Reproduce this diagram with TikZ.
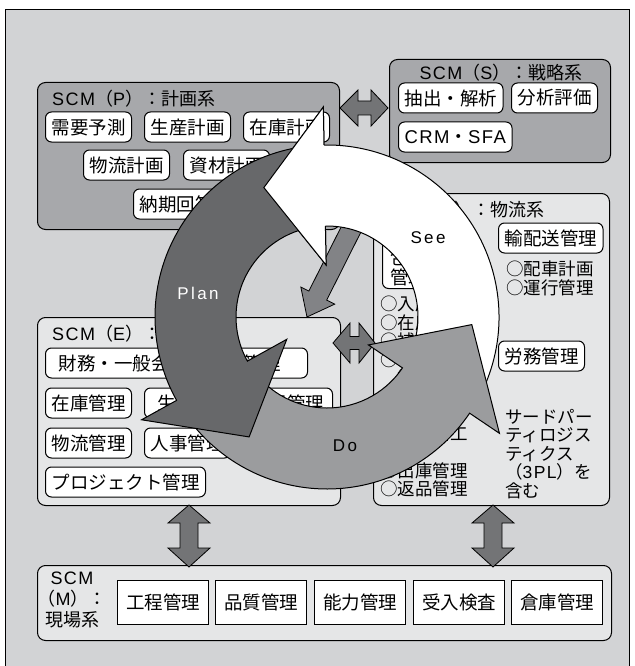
\documentclass[tikz,border=0pt]{standalone}
\usepackage{fontspec}
\setmainfont{Noto Sans CJK JP}
\newfontfamily\lt{Liberation Sans}[LetterSpace=8]
\newfontfamily\ltw{Liberation Sans}[LetterSpace=14]
\usetikzlibrary{calc}
\definecolor{bgc}{HTML}{D2D3D5}
\definecolor{pdk}{HTML}{A7A8AB}
\definecolor{plt}{HTML}{E5E6E7}
\definecolor{plancol}{HTML}{67686A}
\definecolor{docol}{HTML}{9B9C9E}
\definecolor{dblcol}{HTML}{737476}
\definecolor{diagcol}{HTML}{828386}
\begin{document}
\begin{tikzpicture}[x=1pt,y=-1pt,
  panel/.style={draw=black, line width=1pt, rounded corners=8pt, anchor=north west, inner sep=0pt},
  pdark/.style={panel, fill=pdk},
  plight/.style={panel, fill=plt},
  tbox/.style={draw=black, fill=white, line width=1pt, rounded corners=6pt, inner xsep=6pt, inner ysep=0pt,
     minimum height=30pt, font=\fontsize{18.5}{20}\selectfont, anchor=west},
  sqbox/.style={draw=black, fill=white, line width=1pt, minimum width=91pt, minimum height=44pt,
     inner sep=0pt, font=\fontsize{18.5}{20}\selectfont, anchor=north west},
  ttl/.style={anchor=west, font=\fontsize{18}{20}\selectfont, inner sep=0pt},
  lst/.style={anchor=north west, align=left, font=\fontsize{17.5}{18.5}\selectfont, inner sep=0pt},
  dblarr/.style={fill=dblcol, draw=black, line width=0.8pt},
  cyc/.style={draw=black, line width=1pt},
  cyclbl/.style={font=\ltw\fontsize{17}{19}\selectfont, inner sep=0pt}]

\useasboundingbox (0,0) rectangle (634,666);
\fill[white] (0,0) rectangle (634,666);
\filldraw[fill=bgc, draw=black, line width=1pt] (5,10) rectangle (629,690);

% ---------- panels ----------
\node[pdark, minimum width=302pt, minimum height=147pt] (pP) at (37,82) {};
\node[pdark, minimum width=221pt, minimum height=103pt] (pS) at (389,59) {};
\node[plight, minimum width=236pt, minimum height=312pt] (pL) at (373,193) {};
\node[plight, minimum width=303pt, minimum height=188pt] (pE) at (37,317) {};
\node[plight, minimum width=574pt, minimum height=75pt] (pM) at (37,565) {};

% ---------- P panel ----------
\node[ttl] (tP) at (52,99) {{\lt SCM}（{\lt P}）：計画系};
\node[tbox] (bP1) at (45,127) {需要予測};
\node[tbox] (bP2) at (144,127) {生産計画};
\node[tbox] (bP3) at (243,127) {在庫計画};
\node[tbox] (bP4) at (83,165) {物流計画};
\node[tbox] (bP5) at (183,165) {資材計画};
\node[tbox] (bP6) at (133,204) {納期回答};

% ---------- S panel ----------
\node[ttl, anchor=center] (tS) at (501,73) {{\lt SCM}（{\lt S}）：戦略系};
\node[tbox] (bS1) at (398,98) {抽出・解析};
\node[tbox] (bS2) at (511,98) {分析評価};
\node[tbox] (bS3) at (398,137) {{\lt CRM}・{\lt SFA}};

% ---------- L panel ----------
\node[ttl] (tL) at (383,210) {{\lt SCM}（{\lt L}）：物流系};
\node[tbox, anchor=north west, minimum width=72pt, minimum height=54pt] (bL0) at (382,234) {};
\node[lst, font=\fontsize{18.5}{20}\selectfont] (bL0t) at (390,249) {包装\\管理};
\node[tbox] (bL1) at (498,238) {輸配送管理};
\node[lst] (lL1) at (506,261) {○配車計画\\○運行管理};
\node[tbox] (bL2) at (498,356) {労務管理};
\node[lst] (lL2) at (380,296) {○入庫管理\\○在庫管理\\○補充管理\\○ラベル発行\\　管理\\○ピッキング\\○仕分け\\○流通加工\\\\○出庫管理\\○返品管理};
\node[lst] (lL3) at (505,409) {サードパー\\ティロジス\\ティクス\\（{\lt 3PL}）を\\含む};

% ---------- E panel ----------
\node[ttl] (tE) at (52,334) {{\lt SCM}（{\lt E}）：基幹系};
\node[tbox, minimum width=262pt, text width=236pt, align=left] (bE1) at (45,363) {財務・一般会計・原価管理};
\node[tbox] (bE2) at (45,403) {在庫管理};
\node[tbox, minimum width=188pt, text width=162pt, align=left] (bE3) at (144,403) {生産管理・購買管理};
\node[tbox] (bE4) at (45,443) {物流管理};
\node[tbox] (bE5) at (144,443) {人事管理};
\node[tbox] (bE6) at (45,482) {プロジェクト管理};

% ---------- M panel ----------
\node[anchor=center, align=center, inner sep=0pt, font=\fontsize{18}{21}\selectfont] (tM) at (72,600)
  {{\lt SCM}\\（{\lt M}）：\\現場系};
\node[sqbox] (bM1) at (117,580) {工程管理};
\node[sqbox] (bM2) at (215,580) {品質管理};
\node[sqbox] (bM3) at (314,580) {能力管理};
\node[sqbox] (bM4) at (413,580) {受入検査};
\node[sqbox] (bM5) at (511,580) {倉庫管理};

% ---------- double arrows ----------
\coordinate (psL) at (340,108);
\coordinate (psR) at (388,108);
\path[dblarr] (psL) -- ($(psL)+(18,-18)$) -- ($(psL)+(18,-7)$) -- ($(psR)+(-17,-7)$) -- ($(psR)+(-17,-18)$)
  -- (psR) -- ($(psR)+(-17,18)$) -- ($(psR)+(-17,7)$) -- ($(psL)+(18,7)$) -- ($(psL)+(18,18)$) -- cycle;

\coordinate (elL) at (333,343);
\coordinate (elR) at (375,343);
\path[dblarr] (elL) -- ($(elL)+(17,-20)$) -- ($(elL)+(17,-6.5)$) -- ($(elR)+(-16,-6.5)$) -- ($(elR)+(-16,-20)$)
  -- (elR) -- ($(elR)+(-16,20)$) -- ($(elR)+(-16,6.5)$) -- ($(elL)+(17,6.5)$) -- ($(elL)+(17,20)$) -- cycle;

\foreach \nm/\xx in {vA/189, vB/493} {
  \coordinate (\nm T) at (\xx,505);
  \coordinate (\nm B) at (\xx,567);
  \path[dblarr] (\nm T) -- ($(\nm T)+(21,18)$) -- ($(\nm T)+(9,18)$) -- ($(\nm B)+(9,-19)$) -- ($(\nm B)+(21,-19)$)
    -- (\nm B) -- ($(\nm B)+(-21,-19)$) -- ($(\nm B)+(-9,-19)$) -- ($(\nm T)+(-9,18)$) -- ($(\nm T)+(-21,18)$) -- cycle;
}

% ---------- diagonal arrow S -> E ----------
\coordinate (dgS) at (386,160);
\coordinate (dgT) at (307,317);
\coordinate (dgB) at ($(dgT)!24pt!(dgS)$);
\path[fill=diagcol, draw=black, line width=0.8pt]
  ($(dgS)!10pt!90:(dgT)$) -- ($(dgB)!10pt!-90:(dgS)$) -- ($(dgB)!19pt!-90:(dgS)$) -- (dgT)
  -- ($(dgB)!19pt!90:(dgS)$) -- ($(dgB)!10pt!90:(dgS)$) -- ($(dgS)!10pt!-90:(dgT)$) -- cycle;

% ---------- PDS cycle ----------
\begin{scope}[shift={(327,317)}, yscale=-1]
  % See (white)
  \path[cyc, fill=white] (-31:91) -- (-31:172) arc[start angle=-31, end angle=91, radius=172]
    -- (91:210) -- (116:144) -- (91:52) -- (91:91) arc[start angle=91, end angle=-31, radius=91] -- cycle;
  % Do
  \path[cyc, fill=docol] (212:91) -- (212:172) arc[start angle=212, end angle=326, radius=172]
    -- (326:208) -- (357:145) -- (326:50) -- (326:91) arc[start angle=326, end angle=212, radius=91] -- cycle;
  % Plan
  \path[cyc, fill=plancol] (94:91) -- (94:172) arc[start angle=94, end angle=209, radius=172]
    -- (209:212) -- (237:143) -- (209:46) -- (209:91) arc[start angle=209, end angle=94, radius=91] -- cycle;
  % See head again on top of the Plan tail
  \fill[white] (91:210) -- (116:144) -- (91:52) -- cycle;
  \draw[cyc] (91:172) -- (91:210) -- (116:144) -- (91:52) -- (91:91);
\end{scope}

\node[cyclbl, text=white] (lPlan) at (198,293) {Plan};
\node[cyclbl] (lSee) at (428,238) {See};
\node[cyclbl] (lDo) at (345,446) {Do};
\end{tikzpicture}
\end{document}
